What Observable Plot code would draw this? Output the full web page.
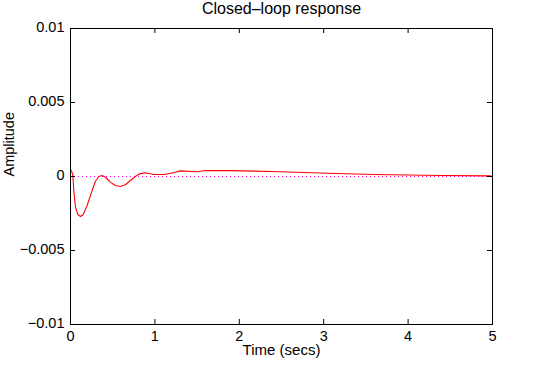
<!DOCTYPE html>
<html>
<head>
<meta charset="utf-8">
<script src="https://cdn.jsdelivr.net/npm/d3@7"></script>
<script src="https://cdn.jsdelivr.net/npm/@observablehq/plot@0.6"></script>
<style>
  html, body { margin: 0; padding: 0; background: #fff; }
  svg { display: block; }
</style>
</head>
<body>
<div id="chart"></div>
<script>
const title = "Closed\u2013loop response";
const xLabel = "Time (secs)";
const yLabel = "Amplitude";
const xTicks = [0, 1, 2, 3, 4, 5];
const yTicks = [-0.01, -0.005, 0, 0.005, 0.01];
const yTickLabels = ["\u22120.01", "\u22120.005", "0", "0.005", "0.01"];

const time = [0, 0.012, 0.028, 0.039, 0.059, 0.087, 0.118, 0.15, 0.197, 0.256, 0.296, 0.335, 0.374, 0.414, 0.473, 0.532, 0.591, 0.65, 0.709, 0.768, 0.819, 0.887, 0.985, 1.12, 1.24, 1.30, 1.50, 1.60, 1.90, 2.38, 2.77, 3.15, 3.60, 4.40, 4.97, 5.0];
const amplitude = [0.00045, 0.0004, 0.00007, -0.00095, -0.00207, -0.00257, -0.0027, -0.00257, -0.00196, -0.00095, -0.00032, 0, 0.00007, -0.00005, -0.00038, -0.00061, -0.00068, -0.00056, -0.00027, 0, 0.00018, 0.00025, 0.000135, 0.000135, 0.00029, 0.00038, 0.00032, 0.0004, 0.0004, 0.00034, 0.00027, 0.0002, 0.000135, 0.00007, 0.00004, 0];

const data = time.map((t, i) => ({t, a: amplitude[i]}));

const W = 546, H = 366, mT = 28, mB = 42, mL = 70, mR = 54;
const plotW = W - mL - mR, plotH = H - mT - mB, tickLen = 5;

const chart = Plot.plot({
  width: W,
  height: H,
  marginTop: mT,
  marginBottom: mB,
  marginLeft: mL,
  marginRight: mR,
  style: {fontFamily: "'Liberation Sans', Arial, Helvetica, sans-serif", fontSize: "14.5px", color: "black", background: "white"},
  x: {domain: [0, 5]},
  y: {domain: [-0.01, 0.01]},
  marks: [
    Plot.ruleY([0], {stroke: "#ff00ff", strokeDasharray: "1,3"}),
    Plot.line(data, {x: "t", y: "a", stroke: "#ff0000", strokeWidth: 1.1}),
    Plot.frame({stroke: "black"}),
    Plot.ruleX(xTicks, {x: d => d, insetTop: plotH - tickLen, stroke: "black"}),
    Plot.ruleX(xTicks, {x: d => d, insetBottom: plotH - tickLen, stroke: "black"}),
    Plot.ruleY(yTicks, {y: d => d, insetRight: plotW - tickLen, stroke: "black"}),
    Plot.ruleY(yTicks, {y: d => d, insetLeft: plotW - tickLen, stroke: "black"}),
    Plot.axisX(xTicks, {anchor: "bottom", tickSize: 0, tickPadding: 6, label: null, tickFormat: d => String(d)}),
    Plot.axisY(yTicks, {anchor: "left", tickSize: 0, tickPadding: 6, label: null, dy: -1, tickFormat: d => yTickLabels[yTicks.indexOf(d)]}),
    Plot.text([title], {text: d => d, frameAnchor: "top", dy: -20, fontSize: 16, lineAnchor: "middle"}),
    Plot.text([xLabel], {text: d => d, frameAnchor: "bottom", dy: 25.5, fontSize: 15, lineAnchor: "middle"}),
    Plot.text([yLabel], {text: d => d, frameAnchor: "left", dx: -61, rotate: -90, fontSize: 14.5, lineAnchor: "middle"})
  ]
});
document.getElementById("chart").appendChild(chart);
</script>
</body>
</html>
